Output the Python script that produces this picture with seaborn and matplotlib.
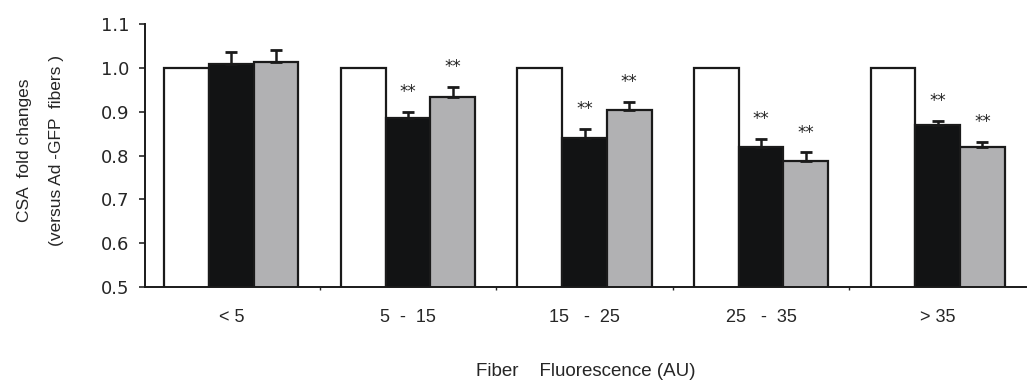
import pandas as pd
import matplotlib.pyplot as plt
import numpy as np
import seaborn as sns

# values
bins = ["< 5", "5  -  15", "15   -  25", "25   -  35", "> 35"]
groups = ["Ad-GFP", "black", "grey"]
gfp = [1.0, 1.0, 1.0, 1.0, 1.0]
black = [1.009, 0.885, 0.840, 0.820, 0.870]
grey = [1.013, 0.934, 0.904, 0.788, 0.819]
black_err = [0.028, 0.015, 0.020, 0.017, 0.008]
grey_err = [0.028, 0.023, 0.019, 0.019, 0.012]
black_sig = ["", "**", "**", "**", "**"]
grey_sig = ["", "**", "**", "**", "**"]

df = pd.DataFrame({
    "bin": bins * 3,
    "group": [g for g in groups for _ in bins],
    "value": gfp + black + grey,
})

sns.set_style("white")
plt.rcParams["font.family"] = ["Liberation Sans", "DejaVu Sans"]

fig, ax = plt.subplots(figsize=(10.27, 3.85), dpi=100)
fig.subplots_adjust(left=0.141, right=0.999, bottom=0.2545, top=0.9377)

sns.barplot(data=df, x="bin", y="value", hue="group", order=bins, hue_order=groups,
            palette=["#ffffff", "#121314", "#b0b1b4"], edgecolor="#1a1a1a",
            linewidth=1.6, width=0.76, legend=False, ax=ax)

# error bars (upper only) and significance stars
nb = len(bins)
patches = ax.patches
for j, (err, sig) in enumerate([(black_err, black_sig), (grey_err, grey_sig)]):
    for i in range(nb):
        p = patches[(j + 1) * nb + i]
        xc = p.get_x() + p.get_width() / 2
        top = p.get_height()
        ax.errorbar(xc, top, yerr=[[0], [err[i]]], fmt="none", ecolor="#1a1a1a",
                    elinewidth=1.8, capsize=4, capthick=2, zorder=3)
        if sig[i]:
            ax.text(xc, top + err[i] + 0.05, sig[i], ha="center", va="center_baseline",
                    fontsize=12, family="DejaVu Sans", color="#222222")

ax.set_ylim(0.5, 1.1)
ax.set_xlim(-0.49, 4.5)
ax.set_yticks(np.arange(0.5, 1.11, 0.1))
ax.set_yticklabels([f"{v:.1f}" for v in np.arange(0.5, 1.11, 0.1)],
                   family="DejaVu Sans", fontsize=13)
ax.set_xticks(range(nb))
ax.set_xticklabels(bins, fontsize=13)
ax.set_xticks([0.5, 1.5, 2.5, 3.5], minor=True)
ax.tick_params(axis="x", which="major", length=0, pad=16)
ax.tick_params(axis="x", which="minor", length=2, width=1, direction="out", bottom=True)
ax.tick_params(axis="y", length=4, width=1.2, direction="out", left=True, pad=7)

sns.despine(ax=ax)
ax.spines["left"].set_linewidth(1.4)
ax.spines["bottom"].set_linewidth(1.4)
ax.spines["left"].set_color("#1a1a1a")
ax.spines["bottom"].set_color("#1a1a1a")

ax.set_xlabel("Fiber    Fluorescence (AU)", fontsize=13.5)
ax.xaxis.set_label_coords(0.5, -0.289)
ax.set_ylabel("CSA  fold changes\n(versus Ad -GFP  fibers )", fontsize=12.5,
              linespacing=2.4)
ax.yaxis.set_label_coords(-0.092, 0.52)

fig.savefig("out.png", dpi=100)
